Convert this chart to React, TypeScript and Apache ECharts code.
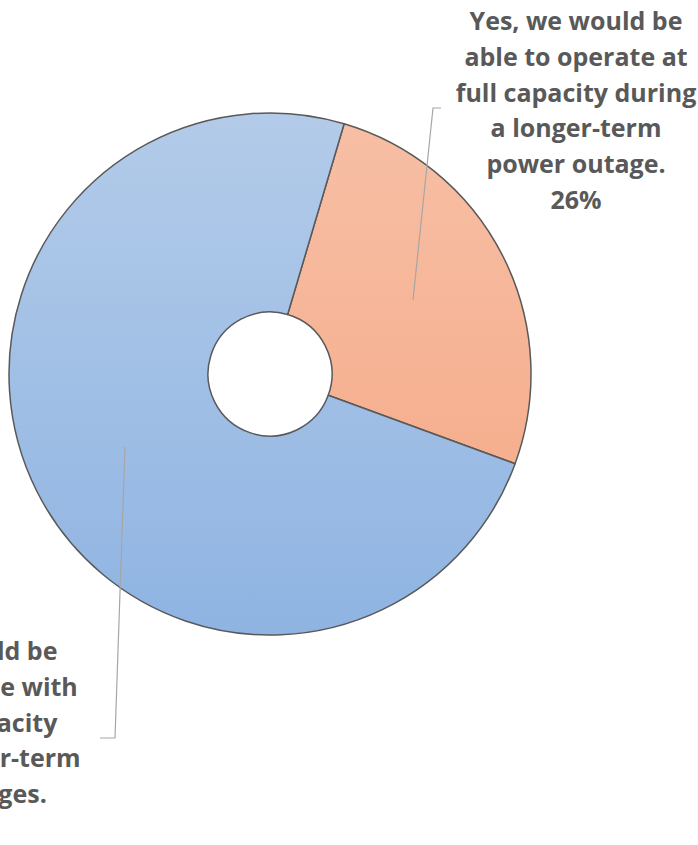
import React, { useEffect, useRef } from "react";
import * as echarts from "echarts";

// Survey answers and their shares (%)
const categories = [
  "Yes, we would be\nable to operate at\nfull capacity during\na longer-term\npower outage.",
  "Yes, we would be\nable to operate with\nreduced capacity\nduring a longer-term\npower outages.",
];
const shares = [26, 74];

// Vertical gradient stops for each slice (top, bottom)
const sliceColors = [
  ["#f7bfa5", "#f5a784"],
  ["#b3cbe9", "#8fb4e2"],
];

const CX = 270;
const CY = 374;
const R_OUT = 261;
const R_IN = 62;

// Label anchor points (horizontal centre, top of the text block)
const labelAnchors = [
  { x: 576, y: 2 },
  { x: -49, y: 632 },
];

// Leader lines from inside each slice to the label
const leaderLines = [
  [
    [413, 300],
    [433, 108],
    [441, 108],
  ],
  [
    [125, 447],
    [115, 738],
    [100, 738],
  ],
];

export default function App() {
  const ref = useRef<HTMLDivElement>(null);

  useEffect(() => {
    if (!ref.current) return;
    const chart = echarts.init(ref.current, undefined, { renderer: "svg" });

    const data = categories.map((name, i) => ({
      name,
      value: shares[i],
      itemStyle: {
        color: new echarts.graphic.LinearGradient(
          0,
          CY - R_OUT,
          0,
          CY + R_OUT,
          [
            { offset: 0, color: sliceColors[i][0] },
            { offset: 1, color: sliceColors[i][1] },
          ],
          true
        ),
      },
    }));

    const labelTexts = categories.map((name, i) => ({
      type: "text",
      x: labelAnchors[i].x,
      y: labelAnchors[i].y,
      silent: true,
      z: 10,
      style: {
        text: `${name}\n${shares[i]}%`,
        fill: "#595959",
        fontFamily: "Open Sans",
        fontWeight: "bold",
        fontSize: 25,
        lineHeight: 35.8,
        align: "center",
        verticalAlign: "top",
      },
    }));

    const lines = leaderLines.map((pts) => ({
      type: "polyline",
      shape: { points: pts },
      style: { stroke: "#a6a6a6", lineWidth: 1.2, fill: null },
      silent: true,
      z: 10,
    }));

    chart.setOption({
      animation: false,
      backgroundColor: "#ffffff",
      series: [
        {
          type: "pie",
          center: [CX, CY],
          radius: [R_IN, R_OUT],
          startAngle: 73.5,
          clockwise: true,
          data,
          itemStyle: {
            borderColor: "#595959",
            borderWidth: 1.5,
          },
          emphasis: { disabled: true },
          label: { show: false },
          labelLine: { show: false },
        },
      ],
      graphic: [...lines, ...labelTexts],
    });

    return () => chart.dispose();
  }, []);

  return (
    <div
      ref={ref}
      style={{ position: "fixed", left: 0, top: 0, width: 698, height: 845 }}
    />
  );
}
